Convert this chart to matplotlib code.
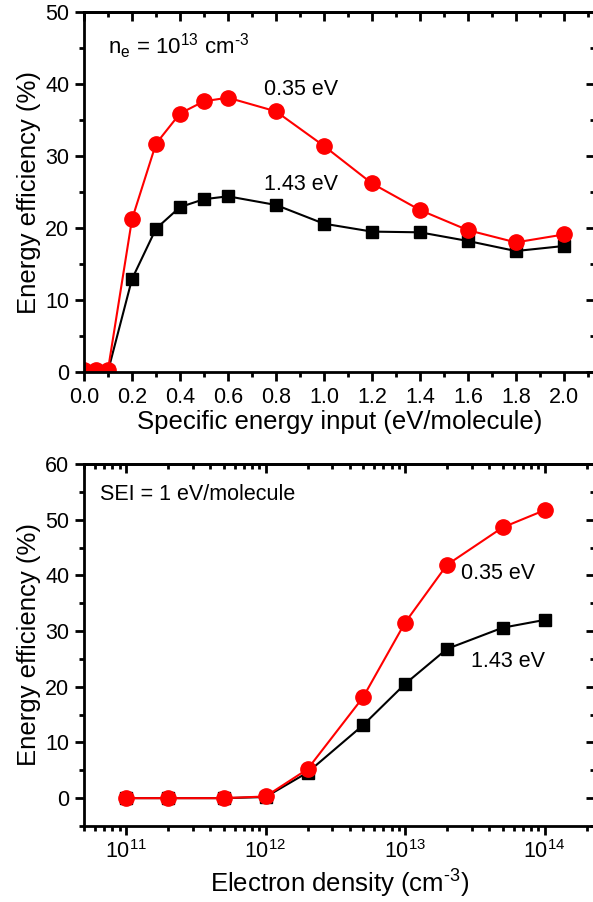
import matplotlib
matplotlib.use("Agg")
import matplotlib.pyplot as plt
from matplotlib.ticker import MultipleLocator, LogLocator, NullFormatter

plt.rcParams['font.family'] = ['Liberation Sans', 'DejaVu Sans']
plt.rcParams['mathtext.fontset'] = 'custom'
plt.rcParams['mathtext.rm'] = 'Liberation Sans'

# top panel: efficiency vs specific energy input (n_e = 1e13 cm^-3)
sei = [0.0, 0.05, 0.1, 0.2, 0.3, 0.4, 0.5, 0.6, 0.8, 1.0, 1.2, 1.4, 1.6, 1.8, 2.0]
eff_035_sei = [0.3, 0.3, 0.3, 21.2, 31.7, 35.9, 37.6, 38.1, 36.2, 31.4, 26.2, 22.5, 19.7, 18.0, 19.1]
eff_143_sei = [0.1, 0.1, 0.1, 12.9, 19.9, 22.9, 24.0, 24.4, 23.2, 20.6, 19.5, 19.4, 18.2, 16.8, 17.5]

# bottom panel: efficiency vs electron density (SEI = 1 eV/molecule)
ne = [1e11, 2e11, 5e11, 1e12, 2e12, 5e12, 1e13, 2e13, 5e13, 1e14]
eff_035_ne = [0.0, 0.0, 0.0, 0.3, 5.2, 18.1, 31.5, 41.9, 48.6, 51.7]
eff_143_ne = [0.0, 0.0, 0.0, 0.2, 4.6, 13.1, 20.5, 26.8, 30.6, 32.0]

W, H = 593, 902
fig = plt.figure(figsize=(W / 100, H / 100), dpi=100)


def px_axes(l, t, r, b):
    return fig.add_axes([l / W, 1 - b / H, (r - l) / W, (b - t) / H])


ax1 = px_axes(84, 12, 595, 372)
ax2 = px_axes(84, 464, 595, 826)

red = dict(color='#ff0000', marker='o', markersize=11, lw=1.5)
blk = dict(color='black', marker='s', markersize=9, lw=1.5)
hy = '\u2010'  # plain hyphen look for the exponents

ax1.plot(sei, eff_143_sei, **blk)
ax1.plot(sei, eff_035_sei, **red)
ax1.set_xlim(0, 2.13)
ax1.set_ylim(0, 50)
ax1.xaxis.set_major_locator(MultipleLocator(0.2))
ax1.xaxis.set_minor_locator(MultipleLocator(0.1))
ax1.yaxis.set_major_locator(MultipleLocator(10))
ax1.yaxis.set_minor_locator(MultipleLocator(5))
ax1.xaxis.set_major_formatter(plt.FuncFormatter(lambda v, p: f"{v:.1f}"))
ax1.set_xlabel('Specific energy input (eV/molecule)', fontsize=18.5, labelpad=2)
ax1.set_ylabel('Energy efficiency (%)', fontsize=18.5, labelpad=3)
ax1.text(0.1, 45.2, r'n$_\mathregular{e}$ = 10$^\mathregular{13}$ cm$^\mathregular{' + hy + '3}$',
         fontsize=16, va='center')
ax1.text(0.75, 39.2, '0.35 eV', fontsize=15.5, va='center')
ax1.text(0.75, 26.0, '1.43 eV', fontsize=15.5, va='center')

ax2.plot(ne, eff_143_ne, **blk)
ax2.plot(ne, eff_035_ne, **red)
ax2.set_xscale('log')
ax2.set_xlim(5e10, 2.3e14)
ax2.set_ylim(-5, 60)
ax2.xaxis.set_major_locator(LogLocator(base=10, numticks=10))
ax2.xaxis.set_minor_locator(LogLocator(base=10, subs=range(2, 10), numticks=20))
ax2.xaxis.set_minor_formatter(NullFormatter())
ax2.yaxis.set_major_locator(MultipleLocator(10))
ax2.yaxis.set_minor_locator(MultipleLocator(5))
ax2.set_xlabel(r'Electron density (cm$^\mathregular{' + hy + '3}$)', fontsize=18.5, labelpad=2)
ax2.set_ylabel('Energy efficiency (%)', fontsize=18.5, labelpad=3)
ax2.text(6.5e10, 54.5, 'SEI = 1 eV/molecule', fontsize=15.5, va='center')
ax2.text(2.5e13, 40.3, '0.35 eV', fontsize=15.5, va='center')
ax2.text(2.95e13, 24.6, '1.43 eV', fontsize=15.5, va='center')

for ax in (ax1, ax2):
    for s in ax.spines.values():
        s.set_linewidth(2)
    ax.tick_params(which='both', direction='out', width=2, labelsize=15.5)
    ax.tick_params(which='major', length=6.5, pad=4)
    ax.tick_params(which='minor', length=3.5)
    # mirrored ticks on top / right point inward
    top = ax.secondary_xaxis('top')
    top.xaxis.set_major_locator(ax.xaxis.get_major_locator())
    top.xaxis.set_minor_locator(ax.xaxis.get_minor_locator())
    top.tick_params(which='both', direction='in', width=2, labeltop=False)
    top.tick_params(which='major', length=6.5)
    top.tick_params(which='minor', length=3.5)
    top.spines['top'].set_linewidth(2)
    right = ax.secondary_yaxis('right')
    right.yaxis.set_major_locator(ax.yaxis.get_major_locator())
    right.yaxis.set_minor_locator(ax.yaxis.get_minor_locator())
    right.tick_params(which='both', direction='in', width=2, labelright=False)
    right.tick_params(which='major', length=6.5)
    right.tick_params(which='minor', length=3.5)
    right.spines['right'].set_linewidth(2)

fig.savefig('out.png', dpi=100)
